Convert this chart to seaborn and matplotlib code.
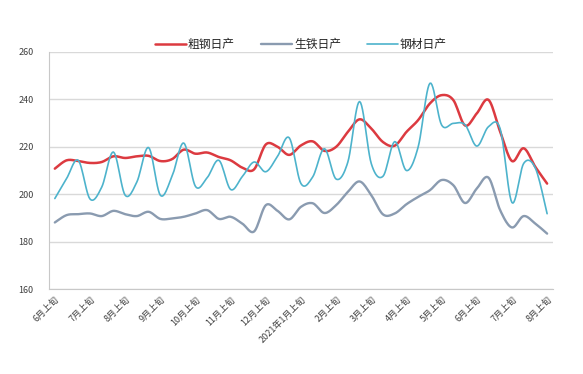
import numpy as np
import pandas as pd
import matplotlib
matplotlib.use("Agg")
import matplotlib.pyplot as plt
from matplotlib.ticker import FixedLocator
import seaborn as sns

sns.set_style("white")
plt.rcParams['font.family'] = ['Noto Sans CJK SC', 'DejaVu Sans']

# =============================================================
# DATA (每旬日产, 万吨)
# =============================================================
periods = list(range(43))  # 2020年6月上旬 ... 2021年8月上旬
tick_labels = ["6月上旬", "7月上旬", "8月上旬", "9月上旬", "10月上旬", "11月上旬",
               "12月上旬", "2021年1月上旬", "2月上旬", "3月上旬", "4月上旬",
               "5月上旬", "6月上旬", "7月上旬", "8月上旬"]

crude_steel = [210.8, 214.3, 214.0, 213.2, 213.6, 216.0, 215.3, 216.0, 216.2, 214.0,
               214.8, 218.8, 217.1, 217.6, 215.7, 214.3, 211.2, 210.5, 221.0, 220.0,
               216.6, 220.6, 222.3, 218.3, 220.0, 226.3, 231.6, 227.7, 222.0, 220.5,
               226.3, 231.3, 238.3, 241.8, 239.7, 229.0, 234.1, 239.8, 226.3, 214.0,
               219.4, 211.5, 204.5]
pig_iron = [188.1, 191.2, 191.6, 191.9, 190.8, 193.0, 191.6, 190.8, 192.6, 189.6,
            189.8, 190.5, 191.9, 193.3, 189.6, 190.5, 187.6, 184.3, 195.4, 193.0,
            189.4, 194.7, 196.2, 192.1, 195.4, 201.0, 205.4, 199.6, 191.5, 191.9,
            195.8, 198.9, 201.7, 206.0, 203.8, 196.3, 202.4, 207.0, 193.2, 186.0,
            190.8, 187.6, 183.4]
steel_products = [198.2, 206.6, 214.3, 198.0, 203.0, 217.8, 199.6, 205.2, 219.7, 199.6,
                  207.5, 221.6, 203.3, 207.0, 214.3, 202.0, 207.5, 213.6, 209.5, 216.0,
                  223.8, 204.5, 207.3, 219.2, 206.4, 213.6, 239.1, 212.9, 207.6, 222.2,
                  210.0, 220.0, 246.8, 229.2, 229.9, 229.3, 220.3, 228.5, 227.5, 196.5,
                  213.0, 211.0, 191.8]

series = {"粗钢日产": crude_steel, "生铁日产": pig_iron, "钢材日产": steel_products}
colors = {"粗钢日产": "#dc3a40", "生铁日产": "#8a9bb0", "钢材日产": "#4db3cc"}
widths = {"粗钢日产": 1.8, "生铁日产": 1.7, "钢材日产": 1.2}


def smooth(x, y, n=12):
    # Catmull-Rom curve through the points, like Excel's "smoothed line"
    x = np.asarray(x, float)
    y = np.asarray(y, float)
    px = np.concatenate([[x[0]], x, [x[-1]]])
    py = np.concatenate([[y[0]], y, [y[-1]]])
    t = np.linspace(0, 1, n, endpoint=False)
    xs, ys = [], []
    for k in range(1, len(px) - 2):
        for p, out in ((px, xs), (py, ys)):
            p0, p1, p2, p3 = p[k - 1], p[k], p[k + 1], p[k + 2]
            out.extend(0.5 * (2 * p1 + (-p0 + p2) * t
                              + (2 * p0 - 5 * p1 + 4 * p2 - p3) * t ** 2
                              + (-p0 + 3 * p1 - 3 * p2 + p3) * t ** 3))
    xs.append(x[-1])
    ys.append(y[-1])
    return np.array(xs), np.array(ys)


frames = []
for name, vals in series.items():
    sx, sy = smooth(periods, vals)
    frames.append(pd.DataFrame({"x": sx, "y": sy, "series": name}))
df = pd.concat(frames, ignore_index=True)

# =============================================================
# PLOT
# =============================================================
fig = plt.figure(figsize=(5.83, 3.74), dpi=100)
ax = fig.add_axes([0.084, 0.227, 0.8645, 0.634])

for name in series:
    sub = df[df["series"] == name]
    sns.lineplot(data=sub, x="x", y="y", ax=ax, color=colors[name],
                 linewidth=widths[name], label=name, sort=False, estimator=None)

ax.set_xlim(-0.5, 42.5)
ax.set_ylim(160, 260)
ax.set_yticks(range(160, 261, 20))
ax.yaxis.grid(True, color="#d9d9d9", linewidth=1.0)
ax.set_xlabel("")
ax.set_ylabel("")

for s in ["top", "right"]:
    ax.spines[s].set_visible(False)
for s in ["left", "bottom"]:
    ax.spines[s].set_color("#c8c8c8")
    ax.spines[s].set_linewidth(0.8)

ax.set_xticks(periods[::3])
ax.set_xticklabels(tick_labels, rotation=45, ha="right", rotation_mode="anchor",
                   fontsize=6.5, color="#404040")
ax.tick_params(axis="x", which="major", length=0, pad=4)
ax.xaxis.set_minor_locator(FixedLocator(np.arange(-0.5, 43, 1)))
ax.tick_params(axis="x", which="minor", length=3, color="#bfbfbf", width=0.8)
ax.tick_params(axis="y", labelsize=6.5, labelcolor="#404040", length=3,
               color="#bfbfbf", pad=8)

ax.legend(loc="lower center", bbox_to_anchor=(0.5, 0.985), ncol=3, frameon=False,
          fontsize=8.5, handlelength=2.6, columnspacing=2.2, handletextpad=0.2,
          borderaxespad=0)

fig.savefig("out.png", dpi=100)
